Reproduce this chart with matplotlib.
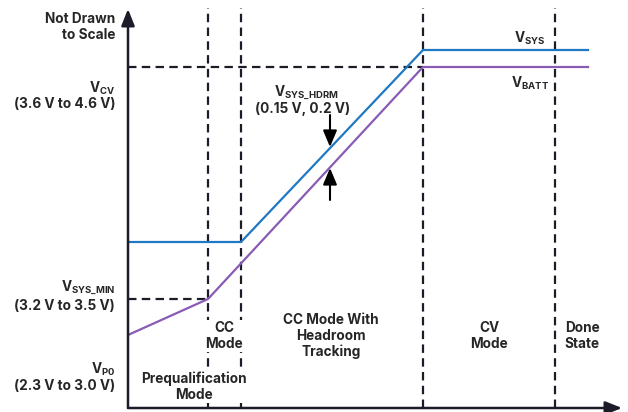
import matplotlib
matplotlib.use("Agg")
import matplotlib.pyplot as plt

plt.rcParams['font.family'] = ['Inter', 'DejaVu Sans']
plt.rcParams['mathtext.fontset'] = 'custom'
plt.rcParams['mathtext.rm'] = 'Inter:bold'
plt.rcParams['mathtext.it'] = 'Inter:bold'
plt.rcParams['mathtext.bf'] = 'Inter:bold'

# Phase boundaries along the time axis (arbitrary units, not to scale)
phase_bounds = [80, 113, 295, 427]
t_end = 460

# System voltage (V_SYS) and battery voltage (V_BATT) profiles
vsys_t = [0, 113, 295, 460]
vsys_v = [166, 166, 358, 358]
vbatt_t = [0, 80, 295, 460]
vbatt_v = [73, 109, 341, 341]

# Reference levels
v_cv = 341
v_sys_min = 109

# Headroom marker
hdrm_t = 202
hdrm_top = 261
hdrm_bot = 240

phase_labels = ["Prequalification\nMode", "CC\nMode", "CC Mode With\nHeadroom\nTracking",
                "CV\nMode", "Done\nState"]

INK = "#1c1c28"
TXT = "#262626"
BLUE = "#1f78c1"
PURPLE = "#8a5bb4"

fig = plt.figure(figsize=(6.28, 4.12), dpi=100)
ax = fig.add_axes([128 / 628, 4 / 412, 494 / 628, 400 / 412])
ax.set_xlim(0, 494)
ax.set_ylim(0, 400)
ax.axis('off')

dash = (0, (3.8, 2.4))
for xb in phase_bounds:
    ax.plot([xb, xb], [0, 400], color=INK, lw=1.6, ls=dash, clip_on=False, zorder=1)
ax.plot([0, phase_bounds[2]], [v_cv, v_cv], color=INK, lw=1.6, ls=dash, zorder=1)
ax.plot([0, phase_bounds[0]], [v_sys_min, v_sys_min], color=INK, lw=1.6, ls=dash, zorder=1)

ax.plot(vsys_t, vsys_v, color=BLUE, lw=1.6, zorder=3, solid_joinstyle='miter')
ax.plot(vbatt_t, vbatt_v, color=PURPLE, lw=1.6, zorder=3, solid_joinstyle='miter')

# Axes with arrowheads
axis_arrow = dict(arrowstyle="-|>,head_length=1.0,head_width=0.4", color=INK, lw=1.8,
                  shrinkA=0, shrinkB=0)
ax.annotate("", xy=(0, 399), xytext=(0, 0), arrowprops=axis_arrow, annotation_clip=False)
ax.annotate("", xy=(494, 0), xytext=(0, 0), arrowprops=axis_arrow, annotation_clip=False)

# Headroom arrows
hdrm_arrow = dict(arrowstyle="-|>,head_length=1.0,head_width=0.42", color="black", lw=1.5,
                  shrinkA=0, shrinkB=0)
ax.annotate("", xy=(hdrm_t, hdrm_top), xytext=(hdrm_t, 293), arrowprops=hdrm_arrow)
ax.annotate("", xy=(hdrm_t, hdrm_bot), xytext=(hdrm_t, 208), arrowprops=hdrm_arrow)

fs = 9.8
kw = dict(fontsize=fs, fontweight='bold', color=TXT, clip_on=False)

# Left-side level labels
ax.text(-13, 381, "Not Drawn\nto Scale", ha='right', va='center', linespacing=1.15, **kw)
ax.text(-13, 320, r"V$_{\mathrm{CV}}$", ha='right', va='center', **kw)
ax.text(-13, 304, "(3.6 V to 4.6 V)", ha='right', va='center', **kw)
ax.text(-13, 120, r"V$_{\mathrm{SYS\_MIN}}$", ha='right', va='center', **kw)
ax.text(-13, 102, "(3.2 V to 3.5 V)", ha='right', va='center', **kw)
ax.text(-13, 39, r"V$_{\mathrm{P0}}$", ha='right', va='center', **kw)
ax.text(-13, 22, "(2.3 V to 3.0 V)", ha='right', va='center', **kw)

# Curve labels
ax.text(402, 370, r"V$_{\mathrm{SYS}}$", ha='center', va='center', **kw)
ax.text(402, 325, r"V$_{\mathrm{BATT}}$", ha='center', va='center', **kw)
ax.text(178, 315, r"V$_{\mathrm{SYS\_HDRM}}$", ha='center', va='center', **kw)
ax.text(175, 299, "(0.15 V, 0.2 V)", ha='center', va='center', **kw)

# Phase labels; the narrow ones sit on a white patch over the dashed boundaries
phase_pos = [(66, 21), (96, 72), (203, 72), (361, 72), (454, 72)]
for (px, py), lab in zip(phase_pos, phase_labels):
    t = ax.text(px, py, lab, ha='center', va='center', linespacing=1.15, zorder=4, **kw)
    if lab.startswith("Prequal") or lab.startswith("CC\n"):
        t.set_bbox(dict(facecolor='white', edgecolor='none', pad=0.5))

fig.savefig("out.png", dpi=100)
